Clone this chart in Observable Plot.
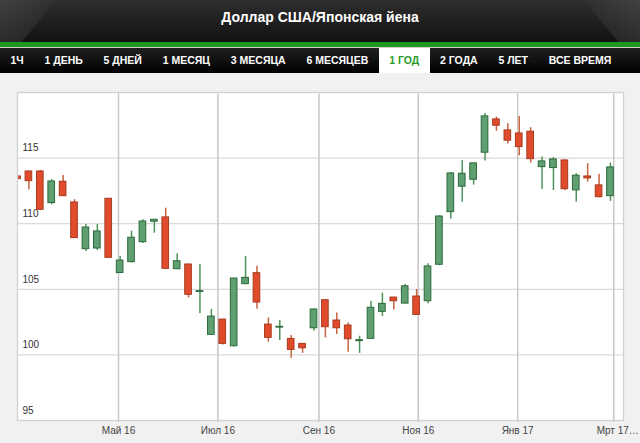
<!DOCTYPE html>
<html><head><meta charset="utf-8">
<script src="https://cdn.jsdelivr.net/npm/d3@7"></script>
<script src="https://cdn.jsdelivr.net/npm/@observablehq/plot@0.6"></script>
<style>
html,body{margin:0;padding:0;width:640px;height:443px;overflow:hidden;background:#f1f1f1;font-family:"Liberation Sans",Arial,sans-serif;}
#header{position:absolute;left:0;top:0;width:640px;height:42px;background:linear-gradient(#2e2e2e,#121212);overflow:hidden}
#header .cl{position:absolute;left:-40px;top:-20px;width:80px;height:80px;background:linear-gradient(90deg,#5a5a5a,#333);transform:skewX(-40deg);opacity:.6}
#header .cr{position:absolute;right:-40px;top:-20px;width:80px;height:80px;background:linear-gradient(270deg,#5a5a5a,#333);transform:skewX(40deg);opacity:.6}
#title{position:absolute;left:0;width:640px;top:9px;text-align:center;color:#fff;font-weight:bold;font-size:14px}
#green{position:absolute;top:42px;height:5px;left:0;width:640px;background:#1d9a1d}
#sep{position:absolute;top:47px;height:1px;left:0;width:640px;background:#cfcfcf}
#tabs{position:absolute;top:48px;height:25px;left:0;width:640px;background:linear-gradient(#202020,#000);display:flex;padding-left:0}
.tab{height:25px;line-height:25px;color:#fff;font-weight:bold;font-size:10.5px;padding:0 10.4px;white-space:nowrap}
.tab.active{background:#fff;color:#2a9a2a}
#chart{position:absolute;top:73px;left:0}
</style></head>
<body>
<div id="header"><div class="cl"></div><div class="cr"></div><div id="title">Доллар США/Японская йена</div></div>
<div id="green"></div><div id="sep"></div>
<div id="tabs"></div>
<div id="chart"></div>
<script>
const tabLabels = ["1Ч","1 ДЕНЬ","5 ДНЕЙ","1 МЕСЯЦ","3 МЕСЯЦА","6 МЕСЯЦЕВ","1 ГОД","2 ГОДА","5 ЛЕТ","ВСЕ ВРЕМЯ"];
const activeTab = "1 ГОД";

const dates = ["2016-02-29","2016-03-07","2016-03-14","2016-03-21","2016-03-28","2016-04-04","2016-04-11","2016-04-18","2016-04-25",
"2016-05-02","2016-05-09","2016-05-16","2016-05-23","2016-05-30","2016-06-06","2016-06-13","2016-06-20","2016-06-27",
"2016-07-04","2016-07-11","2016-07-18","2016-07-25","2016-08-01","2016-08-08","2016-08-15","2016-08-22","2016-08-29",
"2016-09-05","2016-09-12","2016-09-19","2016-09-26","2016-10-03","2016-10-10","2016-10-17","2016-10-24","2016-10-31",
"2016-11-07","2016-11-14","2016-11-21","2016-11-28","2016-12-05","2016-12-12","2016-12-19","2016-12-26",
"2017-01-02","2017-01-09","2017-01-16","2017-01-23","2017-01-30","2017-02-06","2017-02-13","2017-02-20","2017-02-27"];
const open  = [113.60,113.98,113.98,111.57,113.20,111.62,108.06,108.11,111.90,106.24,107.07,108.59,110.15,110.48,106.53,106.89,104.80,101.53,102.69,100.66,105.39,106.23,102.31,102.08,101.22,100.84,102.03,104.17,102.62,102.24,101.05,101.22,103.28,104.37,103.91,104.45,104.09,106.87,110.88,112.82,113.35,115.41,117.95,117.11,116.88,117.01,114.31,114.24,114.82,112.54,113.60,112.92,112.10];
const high  = [113.65,114.00,114.06,113.35,113.68,111.83,109.94,109.94,111.92,107.50,109.43,110.30,110.32,111.18,107.71,106.92,106.89,103.46,102.72,105.85,107.50,106.76,102.82,102.62,101.47,100.86,103.50,104.22,103.20,102.44,101.42,104.07,104.70,104.40,105.36,104.98,106.94,110.60,113.90,114.82,114.62,118.39,118.13,117.62,118.18,117.32,115.08,115.03,114.88,113.81,114.57,113.76,114.62];
const low   = [113.40,112.59,111.00,111.44,112.10,108.88,107.88,107.96,107.38,106.20,107.00,108.50,109.28,106.50,106.50,104.35,103.13,101.50,100.76,100.60,105.35,103.48,100.96,101.09,99.74,100.12,101.80,101.30,101.55,100.20,100.12,101.20,102.94,103.43,103.90,103.00,103.89,106.80,110.35,111.64,112.94,114.77,117.04,116.07,115.18,114.62,112.61,112.53,112.53,111.64,113.17,111.98,111.70];
const close = [113.40,113.24,111.06,113.22,112.10,108.90,109.71,109.41,107.40,107.19,108.93,110.17,110.30,106.56,107.14,104.58,104.86,102.92,100.84,105.82,105.87,103.99,101.30,102.14,100.38,100.50,103.46,102.11,102.03,101.19,101.12,103.59,103.89,104.09,105.23,103.05,106.74,110.55,113.83,113.81,114.60,118.18,117.47,116.33,115.84,114.92,114.75,114.90,112.63,113.66,113.45,112.02,114.29];

const yTicks = [95,100,105,110,115];
const yGrid = [100,105,110,115];
const xTickDates = ["2016-05-01","2016-07-01","2016-09-01","2016-11-01","2017-01-01","2017-03-01"];
const xTickLabels = ["Май 16","Июл 16","Сен 16","Ноя 16","Янв 17","Мрт 17"];
const xEllipsis = "…";

// tabs
const tabs = document.getElementById("tabs");
tabLabels.forEach(t => {
  const el = document.createElement("div");
  el.className = "tab" + (t === activeTab ? " active" : "");
  el.textContent = t;
  tabs.appendChild(el);
});

const data = dates.map((d, i) => ({date: new Date(d), open: open[i], high: high[i], low: low[i], close: close[i]}));
const up = data.filter(d => d.close >= d.open);
const down = data.filter(d => d.close < d.open);
const xt = xTickDates.map((d, i) => ({date: new Date(d), label: xTickLabels[i] + (i === xTickDates.length - 1 ? xEllipsis : "")}));
const half = d => d3.utcHour.offset(d.date, -49);
const half2 = d => d3.utcHour.offset(d.date, 49);

const chart = Plot.plot({
  width: 640, height: 370,
  marginLeft: 17, marginRight: 17, marginTop: 19, marginBottom: 23,
  style: {background: "#f1f1f1", fontFamily: "'Liberation Sans', Arial, sans-serif", overflow: "visible"},
  x: {type: "utc", domain: [new Date("2016-02-29"), new Date("2017-03-07")], axis: null},
  y: {domain: [95, 120], axis: null},
  marks: [
    Plot.frame({fill: "#ffffff"}),
    Plot.gridY(yGrid, {stroke: "#dadada", strokeOpacity: 1, strokeWidth: 1.3}),
    Plot.gridX(xt, {x: "date", stroke: "#dadada", strokeOpacity: 1, strokeWidth: 1.3}),
    Plot.tickX(xt, {x: "date", frameAnchor: "bottom", insetTop: 0, stroke: "#c8c8c8", strokeWidth: 1.3, dy: 2}),
    Plot.text(xt.slice(0, -1), {x: "date", text: "label", frameAnchor: "bottom", dy: 13, fontSize: 10, fill: "#444"}),
    Plot.text(xt.slice(-1), {x: "date", text: "label", frameAnchor: "bottom", dy: 13, dx: 4, fontSize: 10, fill: "#444"}),
    Plot.text(yTicks, {y: d => d, text: d => String(d), frameAnchor: "left", textAnchor: "start", dx: 5, dy: -10, fontSize: 10, fill: "#333"}),
    Plot.ruleX(up, {x: "date", y1: "low", y2: "high", stroke: "#4f935c", strokeWidth: 1.5, clip: true}),
    Plot.ruleX(down, {x: "date", y1: "low", y2: "high", stroke: "#c7653f", strokeWidth: 1.5, clip: true}),
    Plot.rect(up, {x1: half, x2: half2, y1: "open", y2: "close", fill: "#5f9f71", stroke: "#2c6a3b", strokeWidth: 1, clip: true}),
    Plot.rect(down, {x1: half, x2: half2, y1: "open", y2: "close", fill: "#e04b2c", stroke: "#a83b20", strokeWidth: 1, clip: true}),
    Plot.frame({stroke: "#d2d2d2", strokeWidth: 1.3})
  ]
});
document.getElementById("chart").appendChild(chart);
</script>
</body></html>
